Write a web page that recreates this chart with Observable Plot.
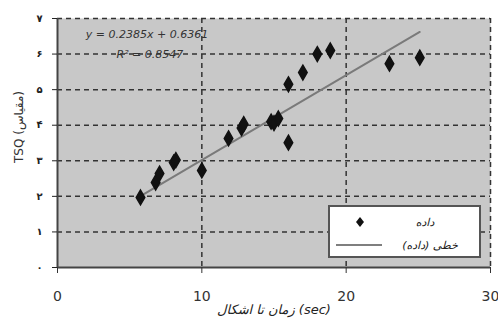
<!DOCTYPE html>
<html><head><meta charset="utf-8">
<script src="https://cdn.jsdelivr.net/npm/d3@7"></script>
<script src="https://cdn.jsdelivr.net/npm/@observablehq/plot@0.6"></script>
<style>
body{margin:0;background:#fff;font-family:"DejaVu Sans",sans-serif;}
#wrap{position:relative;width:498px;height:322px;}
#legend{position:absolute;left:328px;top:205px;width:149px;height:49px;background:#fff;border:2px solid #555;box-sizing:content-box;font-size:11px;font-style:italic;}
</style>
</head><body>
<div id="wrap"></div>
<script>
const xs = [5.75, 6.8, 7.07, 8.05, 8.2, 10.0, 11.85, 12.75, 12.9, 14.8, 15.0, 15.3, 16.0, 16.0, 17.0, 18.0, 18.9, 23.0, 25.1];
const ys = [1.97, 2.39, 2.64, 2.95, 3.02, 2.73, 3.63, 3.92, 4.03, 4.1, 4.06, 4.19, 3.51, 5.15, 5.48, 6.0, 6.1, 5.73, 5.9];
const slope = 0.2385, intercept = 0.6361;
const eqText = "y = 0.2385x + 0.6361";
const r2Text = "R² = 0.8547";
const xTicks = [0, 10, 20, 30];
const yTicks = [0, 1, 2, 3, 4, 5, 6, 7];
const yTickLabels = ["۰","۱","۲","۳","۴","۵","۶","۷"];
const xLabel = "زمان تا اشکال (sec)";
const yLabel = "TSQ (مقیاس)";
const legendLabels = ["داده", "خطی (داده)"];

const pts = xs.map((x, i) => ({x, y: ys[i]}));
const xMin = d3.min(xs), xMax = d3.max(xs);
const trend = [xMin, xMax].map(x => ({x, y: slope * x + intercept}));

const chart = Plot.plot({
  width: 498, height: 322,
  marginLeft: 57, marginRight: 8, marginTop: 18, marginBottom: 55,
  style: {background: "#fff", fontFamily: "DejaVu Sans, sans-serif"},
  x: {domain: [0, 30], label: null},
  y: {domain: [0, 7], label: null},
  marks: [
    Plot.frame({fill: "#c8c8c8", stroke: null}),
    Plot.ruleY(yTicks.slice(1), {stroke: "#333", strokeDasharray: "5,4", strokeWidth: 1.5}),
    Plot.ruleX(xTicks.slice(1), {stroke: "#333", strokeDasharray: "5,4", strokeWidth: 1.5}),
    Plot.ruleX([0], {stroke: "#444", strokeWidth: 2}),
    Plot.ruleY([0], {stroke: "#444", strokeWidth: 2}),
    Plot.axisX({ticks: xTicks, tickSize: 6, tickPadding: 18, fontSize: 14, stroke: "#333", color: "#333", label: null, tickFormat: d => String(d)}),
    Plot.axisY({ticks: yTicks, tickSize: 5, tickPadding: 10, fontSize: 10, fontWeight: "bold", color: "#222", label: null, tickFormat: d => yTickLabels[d]}),
    Plot.line(trend, {x: "x", y: "y", stroke: "#7a7a7a", strokeWidth: 2}),
    Plot.dot(pts, {x: "x", y: "y", symbol: "diamond", r: 4.5, fill: "#111", stroke: "#111"}),
    Plot.text([eqText], {x: 6.2, y: 6.55, fontSize: 11, fontStyle: "italic", fill: "#333"}),
    Plot.text([r2Text], {x: 6.4, y: 6.0, fontSize: 11, fontStyle: "italic", fill: "#333"}),
    Plot.text([xLabel], {frameAnchor: "bottom", dy: 46, dx: 0, fontSize: 13, fontStyle: "italic", fill: "#222"}),
    Plot.text([yLabel], {frameAnchor: "left", dx: -38, dy: 20, rotate: -90, fontSize: 12, fill: "#333"})
  ]
});
const wrap = document.getElementById("wrap");
wrap.appendChild(chart);

const lg = document.createElement("div");
lg.id = "legend";
lg.innerHTML = `<svg width="149" height="49">
<path d="M30,10 L34,15 L30,20 L26,15 Z" fill="#111"/>
<text x="95" y="19" text-anchor="middle" font-size="11" font-style="italic" fill="#222">${legendLabels[0]}</text>
<line x1="6" y1="38" x2="52" y2="38" stroke="#555" stroke-width="1.5"/>
<text x="100" y="42" text-anchor="middle" font-size="11" font-style="italic" fill="#222">${legendLabels[1]}</text>
</svg>`;
wrap.appendChild(lg);
</script>
</body></html>
